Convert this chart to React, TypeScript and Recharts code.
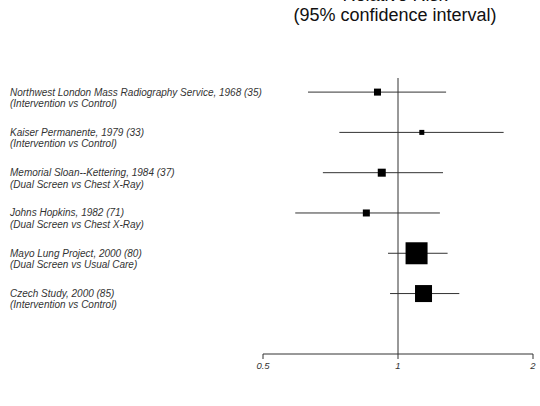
import React from 'react'
import { ReferenceLine, Scatter, ScatterChart, XAxis, YAxis } from 'recharts'

const studies = [
  'Northwest London Mass Radiography Service, 1968 (35)',
  'Kaiser Permanente, 1979 (33)',
  'Memorial Sloan--Kettering, 1984 (37)',
  'Johns Hopkins, 1982 (71)',
  'Mayo Lung Project, 2000 (80)',
  'Czech Study, 2000 (85)',
]
const comparisons = [
  '(Intervention vs Control)',
  '(Intervention vs Control)',
  '(Dual Screen vs Chest X-Ray)',
  '(Dual Screen vs Chest X-Ray)',
  '(Dual Screen vs Usual Care)',
  '(Intervention vs Control)',
]
const relativeRisk = [0.9, 1.13, 0.92, 0.85, 1.1, 1.14]
const lowerCI = [0.63, 0.74, 0.68, 0.59, 0.95, 0.96]
const upperCI = [1.28, 1.72, 1.26, 1.24, 1.29, 1.37]
const weights = [7, 5, 8, 7, 22, 17]
const xTicks = [0.5, 1, 2]

const data = studies.map((name, i) => ({
  row: i,
  name,
  rr: relativeRisk[i],
  lo: lowerCI[i],
  hi: upperCI[i],
  w: weights[i],
}))

const StudyTick = (props: any) => {
  const { y, payload } = props
  const i = payload.value
  if (studies[i] === undefined) return null
  return (
    <text x={10} y={y} fontSize={10} fontStyle="italic" fill="#333">
      <tspan x={10} dy="0.35em">{studies[i]}</tspan>
      <tspan x={10} dy={11.4}>{comparisons[i]}</tspan>
    </text>
  )
}

const Square = (props: any) => {
  const { cx, cy, payload } = props
  const s = payload.w
  return <rect x={cx - s / 2} y={cy - s / 2} width={s} height={s} fill="#000" />
}

const App = () => {
  return (
    <div style={{ position: 'absolute', left: 0, top: 0, width: 540, height: 406, overflow: 'hidden', fontFamily: '"Liberation Sans", Arial, sans-serif' }}>
      <div style={{ position: 'absolute', left: 195, width: 400, top: -15, textAlign: 'center', fontSize: 18, lineHeight: '20px', color: '#111' }}>
        Relative Risk
        <br />
        (95% confidence interval)
      </div>
      <ScatterChart width={540} height={406} margin={{ top: 78, right: 7, bottom: 0, left: 0 }}>
        <XAxis
          type="number"
          dataKey="rr"
          scale="log"
          domain={[0.5, 2]}
          ticks={xTicks}
          allowDataOverflow
          height={52}
          tickSize={5}
          tickMargin={3}
          stroke="#333"
          tick={{ fontSize: 9.5, fontStyle: 'italic', fill: '#333' }}
          tickFormatter={(v: number) => String(v)}
        />
        <YAxis
          type="number"
          dataKey="row"
          domain={[-0.35, 6.5]}
          reversed
          ticks={[0, 1, 2, 3, 4, 5]}
          width={263}
          axisLine={false}
          tickLine={false}
          tick={<StudyTick />}
        />
        <ReferenceLine x={1} stroke="#333" />
        {data.map((d) => (
          <ReferenceLine
            key={d.row}
            segment={[{ x: d.lo, y: d.row }, { x: d.hi, y: d.row }]}
            stroke="#333"
          />
        ))}
        <Scatter data={data} shape={<Square />} isAnimationActive={false} />
      </ScatterChart>
    </div>
  )
}

export default App
